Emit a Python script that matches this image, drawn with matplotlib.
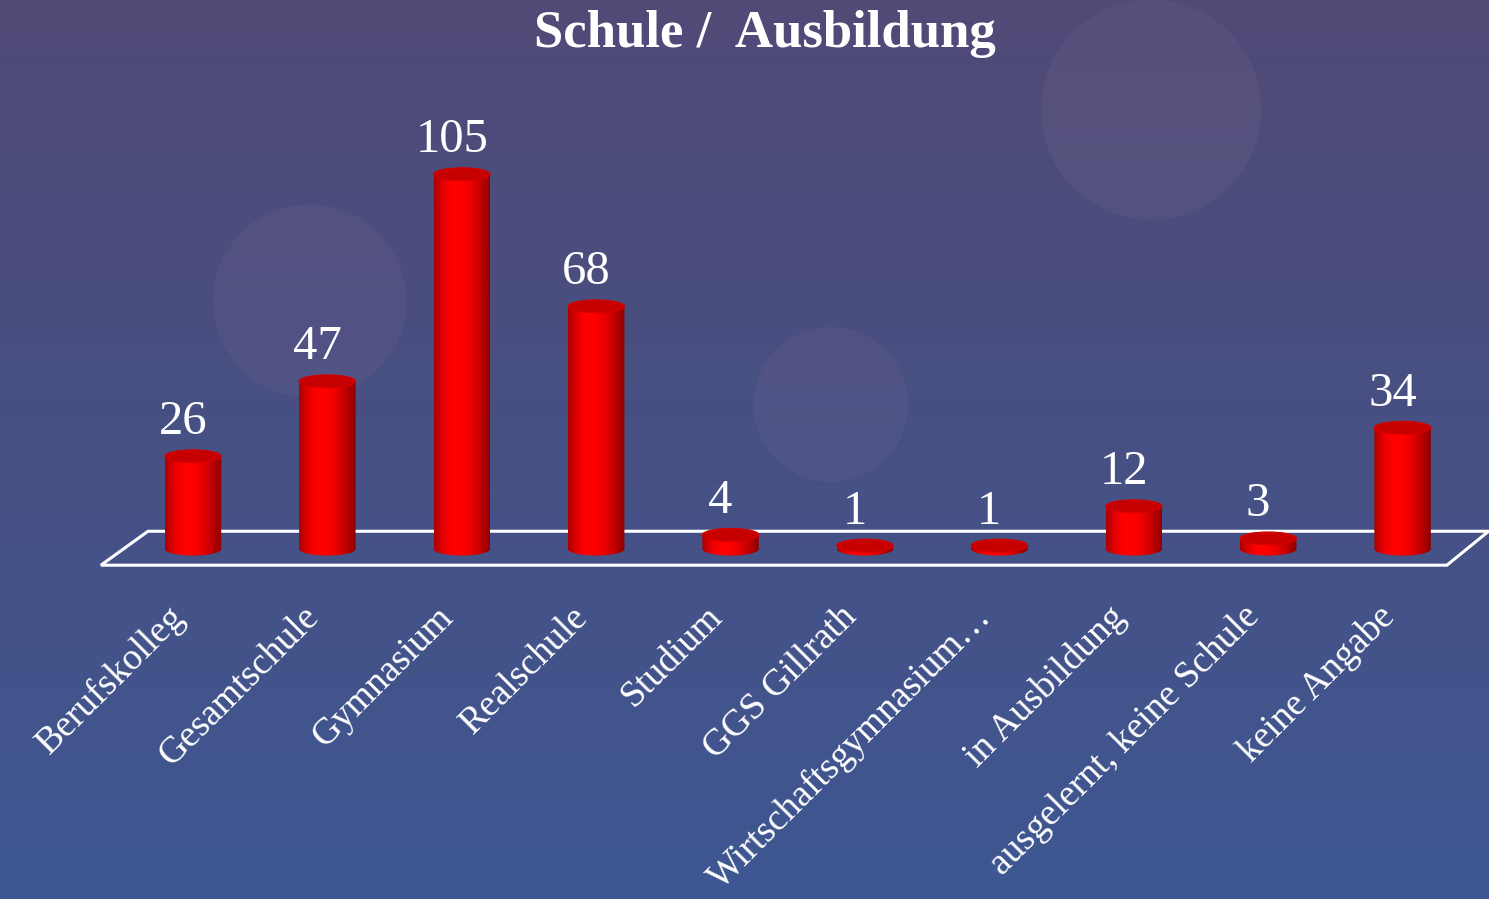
"""Schule / Ausbildung: cylinder bar chart on a slide-style gradient background."""
import numpy as np
import matplotlib.pyplot as plt
from matplotlib.patches import Ellipse, Polygon, PathPatch
from matplotlib.path import Path

categories = ["Berufskolleg", "Gesamtschule", "Gymnasium", "Realschule", "Studium",
              "GGS Gillrath", "Wirtschaftsgymnasium\u2026", "in Ausbildung",
              "ausgelernt, keine Schule", "keine Angabe"]
counts = [26, 47, 105, 68, 4, 1, 1, 12, 3, 34]
title = "Schule /  Ausbildung"

SERIF = ["Liberation Serif", "DejaVu Serif"]
BAR_W = 0.42      # cylinder width in category units
ELL_H = 3.6       # ellipse height in value units

fig = plt.figure(figsize=(14.89, 8.99), dpi=100)

# background gradient
bg = fig.add_axes([0, 0, 1, 1])
top = np.array([80, 74, 118]) / 255
bottom = np.array([62, 87, 146]) / 255
t = np.linspace(0, 1, 256)[:, None]
grad = (top[None, :] * (1 - t) + bottom[None, :] * t)[:, None, :]
bg.imshow(grad, aspect="auto", extent=[0, 1, 0, 1], origin="upper")
for cx, cy, r in [(0.773, 0.878, 0.074), (0.208, 0.665, 0.065), (0.558, 0.55, 0.052)]:
    bg.add_patch(Ellipse((cx, cy), 2 * r, 2 * r * 1489 / 899, color="#e0a8c0", alpha=0.055, lw=0))
bg.set_xlim(0, 1)
bg.set_ylim(0, 1)
bg.axis("off")

# chart area in data coordinates: x = category index, y = count
ax = fig.add_axes([0, 0, 1, 1])
ax.set_xlim(-1.436, 9.643)
ax.set_ylim(-98.0, 153.8)
ax.axis("off")
ax.patch.set_alpha(0)

n = len(categories)
x = np.arange(n)

# floor
floor = Polygon([(-0.685, -4.5), (-0.335, 5.0), (n - 1 + 0.64, 5.0), (n - 1 + 0.33, -4.5)],
                closed=True, fill=False, edgecolor="white", lw=2.2, zorder=1)
ax.add_patch(floor)

# horizontal shading of the cylinder body
shade = np.array([0.66, 0.84, 0.95, 1.0, 1.0, 0.97, 0.9, 0.8, 0.68, 0.55])
s = np.interp(np.linspace(0, 1, 64), np.linspace(0, 1, len(shade)), shade)
body_img = np.zeros((1, 64, 3))
body_img[0, :, 0] = s

theta = np.linspace(np.pi, 2 * np.pi, 40)
for xi, v in zip(x, counts):
    left, right = xi - BAR_W / 2, xi + BAR_W / 2
    h = max(v, 0.6)
    verts = [(left, h)]
    verts += [(xi + BAR_W / 2 * np.cos(a), ELL_H / 2 * np.sin(a)) for a in theta]
    verts += [(right, h), (left, h)]
    clip = PathPatch(Path(verts), transform=ax.transData, facecolor="none", edgecolor="none")
    ax.add_patch(clip)
    im = ax.imshow(body_img, extent=[left, right, -ELL_H / 2, h], aspect="auto",
                   zorder=3, interpolation="bilinear")
    im.set_clip_path(clip)
    ax.add_patch(Ellipse((xi, h), BAR_W, ELL_H, facecolor="#c60000", edgecolor="#d60000",
                         lw=0.8, zorder=4))
    ax.text(xi - 0.075, h + 9.5, str(v), ha="center", va="center", color="white",
            fontsize=35, family=SERIF, zorder=5)

for xi, label in zip(x, categories):
    ax.text(xi - 0.1, -17.5, label, rotation=45, rotation_mode="anchor",
            ha="right", va="center", color="white", fontsize=27, family=SERIF)

fig.text(0.514, 0.962, title, ha="center", va="center", color="white",
         fontsize=38, fontweight="bold", family=SERIF)

fig.savefig("out.png", dpi=100)
